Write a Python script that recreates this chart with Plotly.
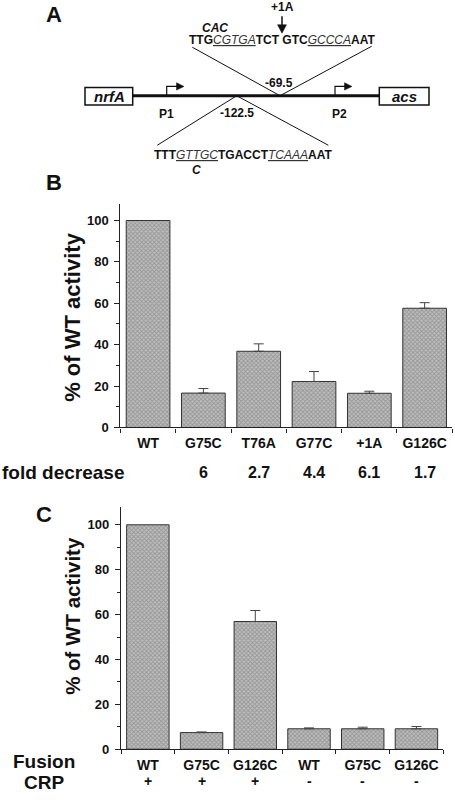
import plotly.graph_objects as go

W, H = 455, 808
FONT = "Liberation Sans, Arial, sans-serif"

# ---- Data ----
b_categories = ["WT", "G75C", "T76A", "G77C", "+1A", "G126C"]
b_values = [100, 16.6, 36.8, 22.2, 16.5, 57.6]
b_errors = [None, 2.2, 3.6, 4.8, 1.0, 2.7]
b_fold = ["", "6", "2.7", "4.4", "6.1", "1.7"]

c_fusion = ["WT", "G75C", "G126C", "WT", "G75C", "G126C"]
c_crp = ["+", "+", "+", "-", "-", "-"]
c_values = [100, 7.4, 56.9, 9.1, 9.1, 9.1]
c_errors = [None, 0.3, 4.9, 0.4, 0.7, 1.0]

y_ticks = [0, 20, 40, 60, 80, 100]


def X(px):
    return px / W


def Y(py):
    return 1 - py / H


fig = go.Figure()

bar_style = dict(
    marker=dict(
        color="#a0a0a0",
        line=dict(color="#333333", width=1),
        pattern=dict(shape="x", size=3, solidity=0.5, fgcolor="#6e6e6e", bgcolor="#bebebe"),
    ),
    width=0.79,
    showlegend=False,
    hoverinfo="skip",
)


def add_panel(values, errors, xa, ya):
    idx = list(range(len(values)))
    fig.add_trace(go.Bar(x=idx, y=values, xaxis=xa, yaxis=ya, **bar_style))
    ex = [i for i, e in zip(idx, errors) if e is not None]
    ey = [values[i] for i in ex]
    ee = [errors[i] for i in ex]
    fig.add_trace(go.Scatter(
        x=ex, y=ey, mode="markers", marker=dict(size=1, color="rgba(0,0,0,0)"),
        error_y=dict(type="data", array=ee, arrayminus=[0] * len(ee), symmetric=False,
                     color="#444444", thickness=1, width=5),
        xaxis=xa, yaxis=ya, showlegend=False, hoverinfo="skip"))


add_panel(b_values, b_errors, "x", "y")
add_panel(c_values, c_errors, "x2", "y2")

common_x = dict(
    range=[-0.5, 5.5], showgrid=False, zeroline=False, showline=True, linecolor="#222222", linewidth=1.3,
    ticks="", tickfont=dict(family=FONT, size=14, color="#111111", weight="bold"),
    ticklabeloverflow="allow", ticklabelstandoff=3,
    minor=dict(tickmode="array", tickvals=[-0.5, 0.5, 1.5, 2.5, 3.5, 4.5, 5.5], ticks="outside",
               ticklen=4, tickcolor="#222222", tickwidth=1),
    fixedrange=True,
)
common_y = dict(
    range=[0, 108], showgrid=False, zeroline=False, showline=True, linecolor="#222222", linewidth=1.3,
    tickmode="array", tickvals=y_ticks, ticks="outside", ticklen=5, tickcolor="#222222", tickwidth=1,
    minor=dict(dtick=10, ticks="outside", ticklen=3, tickcolor="#222222"),
    tickfont=dict(family=FONT, size=13, color="#111111", weight="bold"),
    ticklabelstandoff=3,
    fixedrange=True,
)

fig.update_layout(
    width=W, height=H, margin=dict(l=0, r=0, t=0, b=0),
    paper_bgcolor="white", plot_bgcolor="rgba(0,0,0,0)",
    bargap=0.21,
    xaxis=dict(domain=[X(120.4), X(452.3)], anchor="y",
               tickvals=list(range(len(b_categories))), ticktext=b_categories, **common_x),
    yaxis=dict(domain=[Y(431.7), Y(206.0)], anchor="x", **common_y),
    xaxis2=dict(domain=[X(121.0), X(443.3)], anchor="y2",
                tickvals=list(range(len(c_fusion))), ticktext=c_fusion, **common_x),
    yaxis2=dict(domain=[Y(756.7), Y(511.9)], anchor="x2", **common_y),
)

ann = []


def txt(x, y, text, size=12, bold=True, italic=False, xanchor="center", angle=0, color="#111111"):
    ann.append(dict(x=X(x), y=Y(y), xref="paper", yref="paper", text=text, showarrow=False,
                    xanchor=xanchor, yanchor="middle", textangle=angle,
                    font=dict(family=FONT, size=size, color=color,
                              weight="bold" if bold else "normal",
                              style="italic" if italic else "normal")))


# Panel letters
txt(53.5, 15, "A", 22)
txt(53.5, 184, "B", 22)
txt(44, 520, "C", 22)

# Panel A texts
txt(282, 7.5, "+1A", 12)
txt(215, 28.3, "CAC", 12, italic=True)
top_seq = ("TTG<span style='font-weight:normal;color:#333'><i><u>CGTGA</u></i></span>TCT GTC"
           "<span style='font-weight:normal;color:#333'><i><u>GCCCA</u></i></span>AAT")
txt(282, 40, top_seq, 12)
bot_seq = ("TTT<span style='font-weight:normal;color:#333'><i><u>GTTGC</u></i></span>TGACCT"
           "<span style='font-weight:normal;color:#333'><i><u>TCAAA</u></i></span>AAT")
txt(243.3, 156.7, bot_seq, 12)
txt(196.7, 171.7, "C", 12, italic=True)
txt(279, 84, "-69.5", 12)
txt(237, 114.3, "-122.5", 12)
txt(166, 115, "P1", 12)
txt(339, 115, "P2", 12)
txt(109, 97.2, "nrfA", 15, italic=True)
txt(404, 97.2, "acs", 15, italic=True)

# Axis titles
txt(73, 321, "% of WT activity", 22, angle=-90)
txt(73, 622, "% of WT activity", 20.5, angle=-90)

# Fold decrease row
txt(63, 477, "fold decrease", 19)
for i, f in enumerate(b_fold):
    if f:
        ann.append(dict(x=i, y=Y(477), xref="x", yref="paper", text=f, showarrow=False,
                        xanchor="center", yanchor="middle",
                        font=dict(family=FONT, size=16, color="#111111", weight="bold")))

# Fusion / CRP rows
txt(44, 769, "Fusion", 19)
txt(44, 790.7, "CRP", 19)
for i, s in enumerate(c_crp):
    ann.append(dict(x=i, y=Y(789), xref="x2", yref="paper", text=s, showarrow=False,
                    xanchor="center", yanchor="middle",
                    font=dict(family=FONT, size=14, color="#111111", weight="bold")))

fig.update_layout(annotations=ann)

# Panel A shapes
shapes = []


def line(x0, y0, x1, y1, w=1, color="#111111"):
    shapes.append(dict(type="line", xref="paper", yref="paper", x0=X(x0), y0=Y(y0), x1=X(x1), y1=Y(y1),
                       line=dict(color=color, width=w)))


def path(pts, closed=False, fill=None, w=1.2):
    d = "M " + " L ".join(f"{X(a)},{Y(b)}" for a, b in pts)
    if closed:
        d += " Z"
    shapes.append(dict(type="path", xref="paper", yref="paper", path=d,
                       line=dict(color="#111111", width=w),
                       fillcolor=fill if fill else "rgba(0,0,0,0)"))


line(132.7, 96.7, 379.3, 96.7, 3)
shapes.append(dict(type="rect", xref="paper", yref="paper", x0=X(85), x1=X(132.7), y0=Y(106), y1=Y(88.3),
                   line=dict(color="#111111", width=1.5), fillcolor="white"))
shapes.append(dict(type="rect", xref="paper", yref="paper", x0=X(379.3), x1=X(429), y0=Y(106), y1=Y(88.3),
                   line=dict(color="#111111", width=1.5), fillcolor="white"))
line(192.3, 47.7, 280, 96.7)
line(371.7, 46.7, 280, 96.7)
line(236.7, 96.7, 157.3, 146.7)
line(236.7, 96.7, 328.3, 146.7)
# promoter arrows
path([(166.7, 96.7), (166.7, 87.3), (177, 87.3)])
path([(176.5, 83.6), (184, 87.3), (176.5, 91)], closed=True, fill="#111111", w=0.5)
path([(335, 96.7), (335, 87.3), (345, 87.3)])
path([(344.5, 83.6), (352, 87.3), (344.5, 91)], closed=True, fill="#111111", w=0.5)
# +1A arrow
line(282, 16.5, 282, 26, 1.5)
path([(277.5, 25), (286.5, 25), (282, 33.5)], closed=True, fill="#111111", w=0.5)

fig.update_layout(shapes=shapes)

fig.write_html("out.html", config={"displayModeBar": False},
               post_script="document.body.style.margin='0';document.body.style.overflow='hidden';")
